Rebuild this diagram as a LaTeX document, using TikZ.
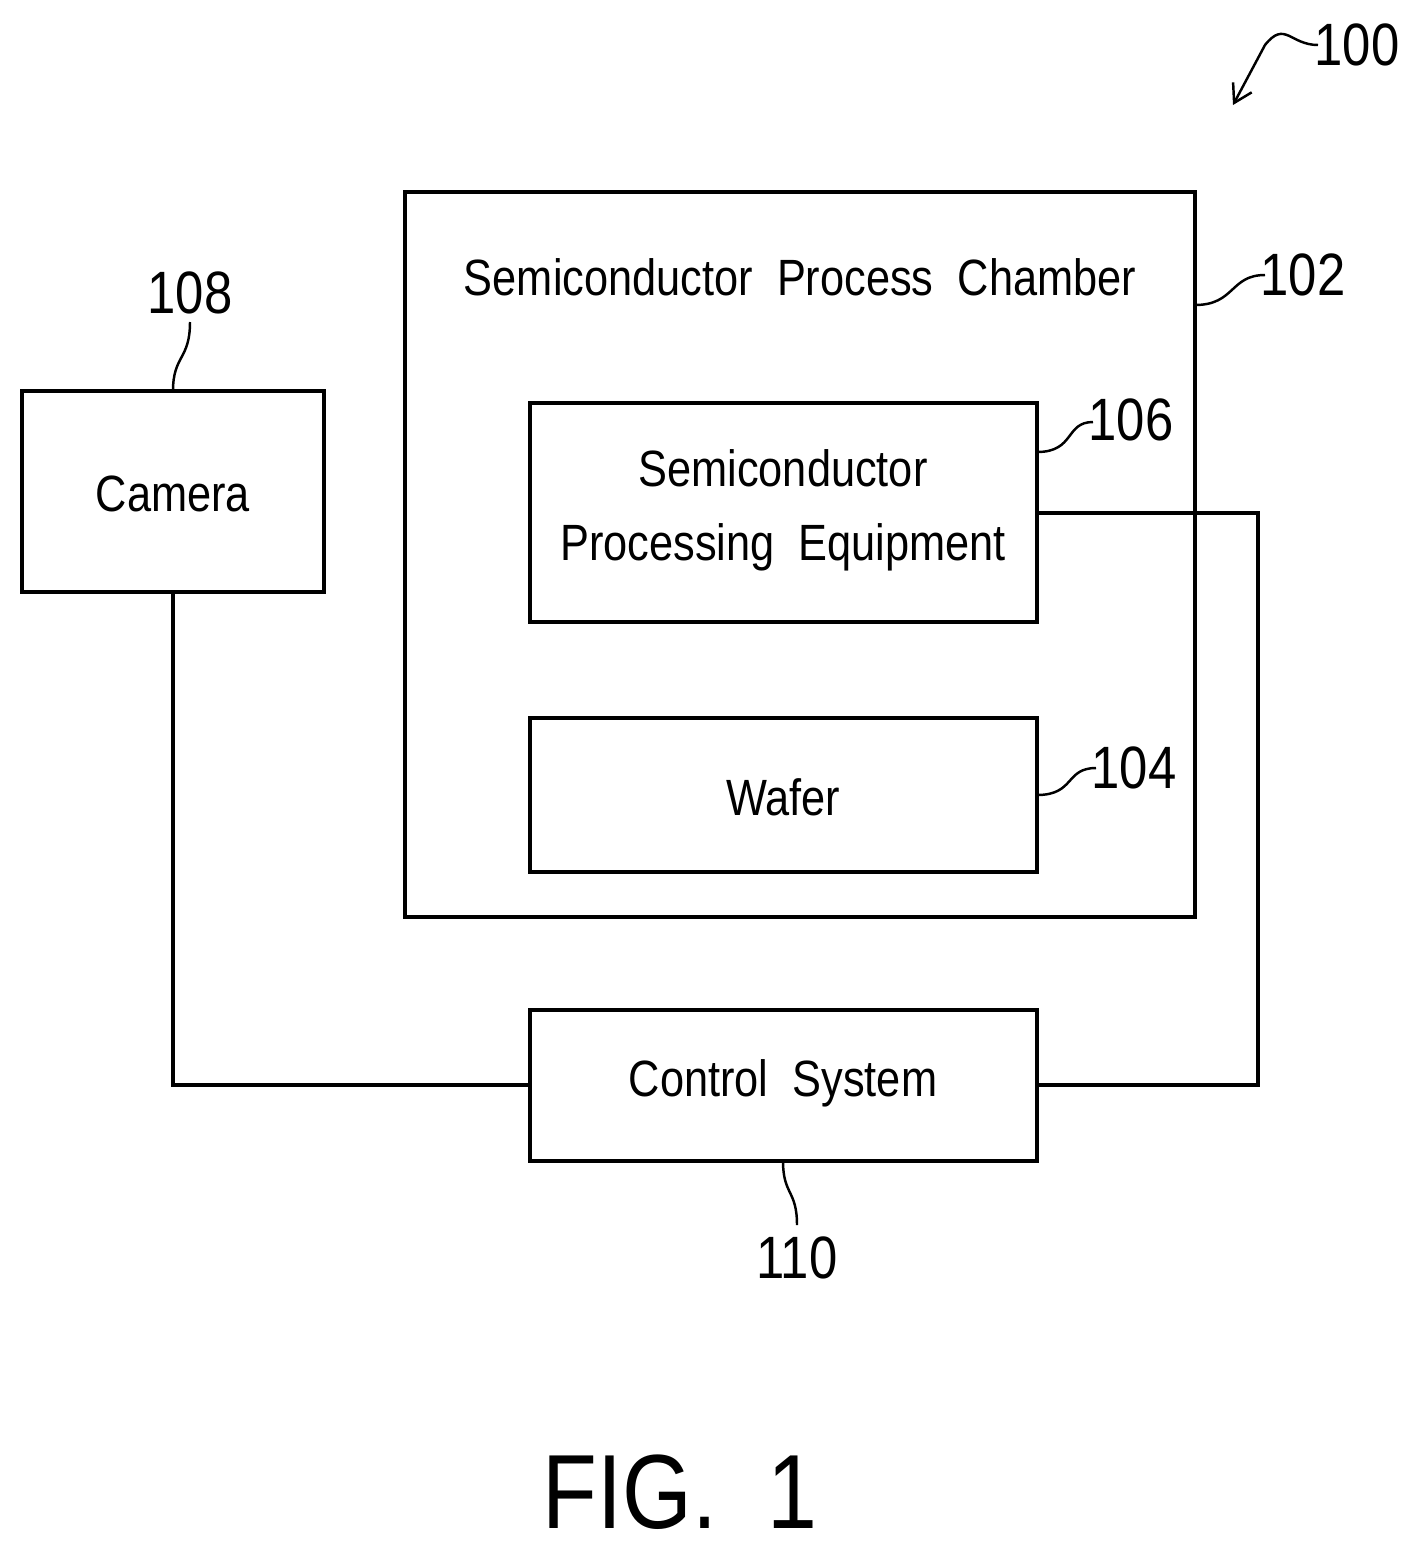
\documentclass[tikz,border=0pt]{standalone}
\usepackage{fontspec}
\setmainfont{Liberation Sans}[FakeStretch=0.85]
\usetikzlibrary{arrows.meta}
\begin{document}
\begin{tikzpicture}[x=0.01cm,y=-0.01cm,
  box/.style={draw,line width=1.2pt,inner sep=0pt},
  wire/.style={line width=0.9pt},
  lead/.style={line width=0.7pt},
  lbl/.style={font=\fontsize{14.5}{17}\selectfont},
  num/.style={font=\fontsize{17}{20}\selectfont}]
\useasboundingbox (0,0) rectangle (1417,1548);
\draw[box] (405,192) rectangle (1195,917) coordinate (chB);
\node[lbl] (chT) at (800,277) {Semiconductor\ \ Process\ \ Chamber};
\draw[box] (530,403) rectangle (1037,622);
\node[lbl,align=center] (eqT) at (783,510) {Semiconductor\\[4pt]Processing\ \ Equipment};
\draw[box] (530,718) rectangle (1037,872);
\node[lbl] (wf) at (783,797) {Wafer};
\draw[box] (22,391) rectangle (324,592);
\node[lbl] (cam) at (173,494) {Camera};
\draw[box] (530,1010) rectangle (1037,1161);
\node[lbl] (cs) at (783,1083) {Control\ \ System};
\coordinate (camB) at (173,592);
\coordinate (c1) at (173,1085);
\coordinate (csL) at (530,1085);
\coordinate (eqR) at (1037,513);
\coordinate (e1) at (1258,513);
\coordinate (e2) at (1258,1085);
\coordinate (csR) at (1037,1085);
\draw[wire] (camB) -- (c1) -- (csL);
\draw[wire] (eqR) -- (e1) -- (e2) -- (csR);
\node[num] (n100) at (1357,45) {100};
\draw[lead,-{Straight Barb[length=5pt,width=6pt]}] (1318,45) .. controls (1290,45) and (1285,20) .. (1265,45) -- (1233,105);
\node[num] (n102) at (1303,275) {102};
\draw[lead] (1195,305) .. controls (1235,305) and (1230,275) .. (1265,275);
\node[num] (n106) at (1131,420) {106};
\draw[lead] (1037,452) .. controls (1075,452) and (1065,422) .. (1093,422);
\node[num] (n104) at (1134,768) {104};
\draw[lead] (1037,795) .. controls (1075,795) and (1065,768) .. (1096,768);
\node[num] (n108) at (190,293) {108};
\draw[lead] (173,391) .. controls (173,355) and (190,360) .. (190,322);
\node[num] (n110) at (797,1258) {110};
\draw[lead] (783,1161) .. controls (783,1195) and (797,1190) .. (797,1225);
\node[font=\fontsize{30}{34}\selectfont] (fig) at (680,1492) {FIG.\ \ 1};
\end{tikzpicture}
\end{document}
